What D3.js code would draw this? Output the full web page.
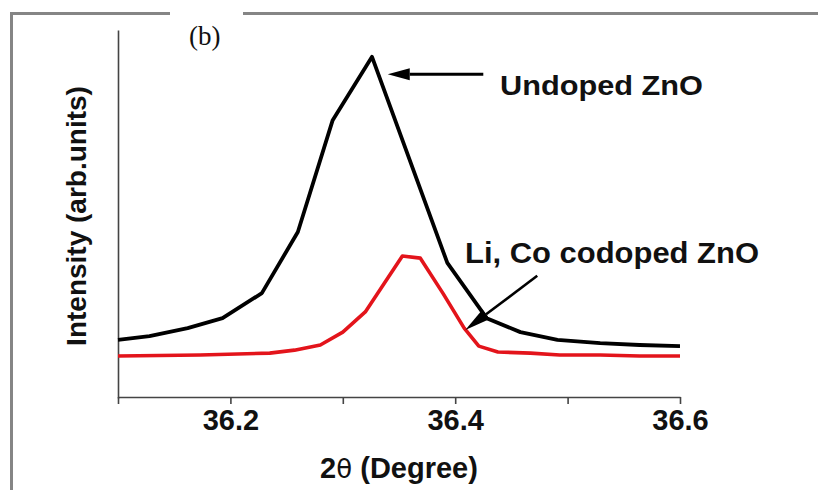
<!DOCTYPE html>
<html>
<head>
<meta charset="utf-8">
<script src="https://cdn.jsdelivr.net/npm/d3@7"></script>
<style>
  html, body { margin: 0; padding: 0; background: #fff; }
  svg { display: block; }
  text { font-family: "Liberation Sans", Arial, sans-serif; font-weight: bold; fill: #111; }
</style>
</head>
<body>
<svg id="chart" width="818" height="490"></svg>
<script>
// ---- data ----
const undopedX = [36.10, 36.128, 36.162, 36.193, 36.228, 36.26, 36.291, 36.326, 36.393, 36.428, 36.458, 36.491, 36.529, 36.564, 36.60];
const undopedY = [15.8, 16.8, 19.0, 21.7, 28.5, 45.1, 75.5, 92.7, 36.7, 21.7, 17.9, 15.8, 14.9, 14.4, 14.1];

const codopedX = [36.10, 36.173, 36.235, 36.257, 36.28, 36.30, 36.32, 36.353, 36.369, 36.389, 36.408, 36.421, 36.438, 36.467, 36.493, 36.529, 36.564, 36.60];
const codopedY = [11.4, 11.7, 12.2, 13.0, 14.4, 17.9, 23.4, 38.6, 38.0, 28.5, 19.0, 14.1, 12.5, 12.2, 11.7, 11.7, 11.4, 11.4];

const xTicks = [36.1, 36.2, 36.3, 36.4, 36.5, 36.6];
const xTickLabels = ["", "36.2", "", "36.4", "", "36.6"];

const seriesNames = ["Undoped ZnO", "Li, Co codoped ZnO"];
// annotation arrows in data units: [tailX, tailY, tipX, tipY]
const arrowUndoped = [36.425, 88.0, 36.340, 88.0];
const arrowCodoped = [36.473, 33.2, 36.409, 18.5];

// ---- layout ----
const svg = d3.select("#chart");
const x = d3.scaleLinear().domain([36.1, 36.6]).range([118, 680]);
const y = d3.scaleLinear().domain([0, 100]).range([398, 30]);

// outer frame
svg.append("line").attr("x1", 11.5).attr("x2", 11.5).attr("y1", 12).attr("y2", 490)
  .attr("stroke", "#858585").attr("stroke-width", 3);
svg.append("line").attr("x1", 10).attr("x2", 818).attr("y1", 13.5).attr("y2", 13.5)
  .attr("stroke", "#858585").attr("stroke-width", 3);
svg.append("rect").attr("x", 170).attr("y", 9).attr("width", 73).attr("height", 9).attr("fill", "#fff");

// x axis
const xAxis = d3.axisBottom(x).tickValues(xTicks)
  .tickFormat((d, i) => xTickLabels[i]).tickSize(7).tickSizeOuter(0);
const gx = svg.append("g").attr("transform", "translate(0,397)").call(xAxis);
gx.select(".domain").attr("stroke", "#444").attr("stroke-width", 1.6);
gx.selectAll(".tick line").attr("stroke", "#444").attr("stroke-width", 1.6);
gx.selectAll(".tick text").attr("font-size", 29).attr("font-family", "Liberation Sans, Arial, sans-serif")
  .attr("font-weight", "bold").attr("fill", "#111").attr("dy", 0).attr("y", 33);

// y axis line (no ticks)
const gy = svg.append("g").attr("transform", "translate(118,0)")
  .call(d3.axisLeft(y).tickValues([]).tickSizeOuter(0));
gy.select(".domain").attr("stroke", "#444").attr("stroke-width", 1.6);

// axis titles
const xt = svg.append("text").attr("x", 399).attr("y", 478).attr("text-anchor", "middle").attr("font-size", 29);
xt.append("tspan").text("2");
xt.append("tspan").attr("font-family", "DejaVu Sans").attr("font-weight", "normal").attr("font-size", 26).text("θ");
xt.append("tspan").text(" (Degree)");

svg.append("text").attr("transform", "translate(86,216) rotate(-90)")
  .attr("text-anchor", "middle").attr("font-size", 28).text("Intensity (arb.units)");

// (b) label
svg.append("text").attr("x", 189).attr("y", 45)
  .style("font-family", "'Liberation Serif', 'Times New Roman', serif").style("font-weight", "normal")
  .style("font-size", "27px").text("(b)");

// lines
const line = d3.line().x(d => x(d[0])).y(d => y(d[1]));
svg.append("path").datum(codopedX.map((v, i) => [v, codopedY[i]]))
  .attr("d", line).attr("fill", "none").attr("stroke", "#e3141b").attr("stroke-width", 3.6)
  .attr("stroke-linejoin", "round");
svg.append("path").datum(undopedX.map((v, i) => [v, undopedY[i]]))
  .attr("d", line).attr("fill", "none").attr("stroke", "#000").attr("stroke-width", 3.8)
  .attr("stroke-linejoin", "round");

// arrows
function arrow(a, headLen, headHalf, width) {
  const x1 = x(a[0]), y1 = y(a[1]), x2 = x(a[2]), y2 = y(a[3]);
  const ang = Math.atan2(y2 - y1, x2 - x1);
  const bx = x2 - headLen * Math.cos(ang), by = y2 - headLen * Math.sin(ang);
  svg.append("line").attr("x1", x1).attr("y1", y1).attr("x2", bx).attr("y2", by)
    .attr("stroke", "#000").attr("stroke-width", width);
  const px = -Math.sin(ang), py = Math.cos(ang);
  svg.append("polygon").attr("points", [
    [x2, y2], [bx + px * headHalf, by + py * headHalf], [bx - px * headHalf, by - py * headHalf]
  ].map(p => p.join(",")).join(" ")).attr("fill", "#000");
}
arrow(arrowUndoped, 22, 6, 3);
arrow(arrowCodoped, 26, 6, 2.6);

// series labels
svg.append("text").attr("x", 500).attr("y", 95).attr("font-size", 28)
  .attr("textLength", 203).attr("lengthAdjust", "spacingAndGlyphs").text(seriesNames[0]);
svg.append("text").attr("x", 465).attr("y", 263).attr("font-size", 29)
  .attr("textLength", 294).attr("lengthAdjust", "spacingAndGlyphs").text(seriesNames[1]);
</script>
</body>
</html>
